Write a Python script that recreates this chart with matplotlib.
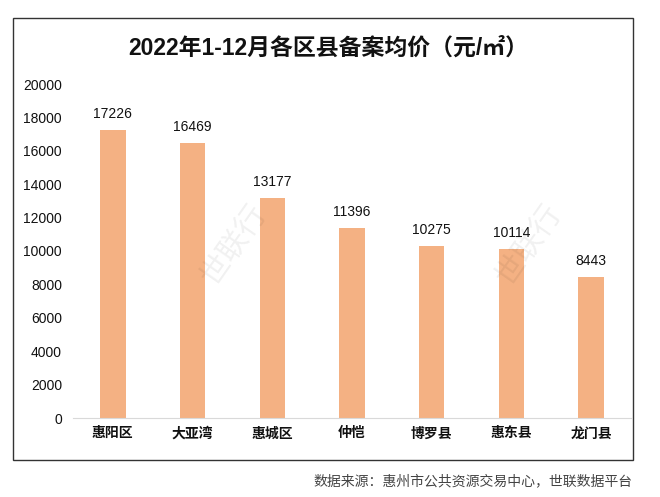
import matplotlib
matplotlib.use("Agg")
import matplotlib.pyplot as plt
from matplotlib.patches import Rectangle

plt.rcParams['font.family'] = ['Liberation Sans', 'Noto Sans CJK SC', 'DejaVu Sans']

categories = ["惠阳区", "大亚湾", "惠城区", "仲恺", "博罗县", "惠东县", "龙门县"]
values = [17226, 16469, 13177, 11396, 10275, 10114, 8443]
yticks = [0, 2000, 4000, 6000, 8000, 10000, 12000, 14000, 16000, 18000, 20000]
title = "2022年1-12月各区县备案均价（元/㎡）"
source = "数据来源：惠州市公共资源交易中心，世联数据平台"

fig = plt.figure(figsize=(6.6, 4.97), dpi=100)
fig.patch.set_facecolor("white")

# outer frame
fig.add_artist(Rectangle((13/660, 1-460/497), (633-13)/660, (460-18)/497,
                         transform=fig.transFigure, fill=False,
                         edgecolor="#333333", linewidth=1.0))

ax = fig.add_axes([73/660, 1-418/497, 558/660, 334/497])
x = range(len(categories))
ax.bar(x, values, width=0.32, color="#F4B183", zorder=2)
for xi, v in zip(x, values):
    ax.text(xi, v + 550, str(v), ha="center", va="bottom", fontsize=10, color="#111111")

ax.set_xlim(-0.5, len(categories) - 0.5)
ax.set_ylim(0, 20000)
ax.set_yticks(yticks)
ax.set_yticklabels([str(t) for t in yticks], fontsize=10, color="#111111")
ax.set_xticks(list(x))
ax.set_xticklabels(categories, fontsize=10, fontweight="bold", color="#111111",
                   family=['Noto Sans CJK SC'])
for s in ["top", "right", "left"]:
    ax.spines[s].set_visible(False)
ax.spines["bottom"].set_color("#D9D9D9")
ax.tick_params(axis="both", length=0)
ax.tick_params(axis="y", pad=8)
ax.tick_params(axis="x", pad=6)

fig.text(328/660, 1-48/497, title, ha="center", va="center", fontsize=16.5,
         fontweight="bold", color="#111111")
fig.text(633/660, 1-481/497, source, ha="right", va="center", fontsize=10,
         color="#444444", family=['Noto Sans CJK SC'])

# faint watermarks
for (wx, wy) in [(235/660, 1-245/497), (530/660, 1-245/497)]:
    fig.text(wx, wy, "世联行", rotation=55, fontsize=22, color="#000000", alpha=0.06,
             ha="center", va="center", family=['Noto Sans CJK SC'])

fig.savefig("out.png", dpi=100)
